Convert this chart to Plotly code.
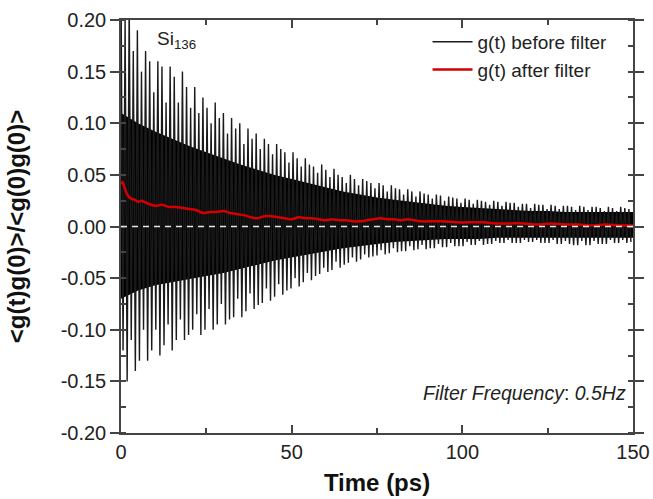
import numpy as np
import plotly.graph_objects as go

# ---- data ----
cycle_ps = 1.2  # spacing of oscillation maxima (ps)

# upper peaks of g(t) before filter, one per oscillation cycle (t = 0, 1.2, 2.4, ...)
peaks_before = [
    0.24, 0.20, 0.22, 0.17, 0.19, 0.15, 0.17, 0.16, 0.13, 0.16,
    0.155, 0.12, 0.155, 0.145, 0.12, 0.15, 0.135, 0.115, 0.135, 0.11,
    0.125, 0.115, 0.10, 0.12, 0.105, 0.11, 0.09, 0.105, 0.095, 0.10,
    0.08, 0.095, 0.085, 0.09, 0.075, 0.085, 0.08, 0.07, 0.08, 0.075,
    0.072, 0.062, 0.072, 0.066, 0.058, 0.066, 0.06, 0.058, 0.052, 0.06,
    0.055, 0.048, 0.056, 0.05, 0.048, 0.042, 0.05, 0.046, 0.04, 0.046,
    0.044, 0.042, 0.037, 0.042, 0.04, 0.034, 0.04, 0.037, 0.036, 0.031,
    0.036, 0.034, 0.029, 0.034, 0.032, 0.031, 0.027, 0.031, 0.03, 0.025,
    0.029, 0.028, 0.027, 0.023, 0.027, 0.026, 0.022, 0.026, 0.025, 0.024,
    0.021, 0.025, 0.024, 0.02, 0.024, 0.023, 0.023, 0.019, 0.022, 0.022,
    0.018, 0.022, 0.021, 0.021, 0.017, 0.021, 0.02, 0.017, 0.02, 0.02,
    0.019, 0.016, 0.02, 0.019, 0.016, 0.019, 0.019, 0.018, 0.015, 0.019,
    0.018, 0.015, 0.019, 0.018, 0.017,
]

# lower troughs of g(t) before filter (t = 0.6, 1.8, 3.0, ...)
troughs_before = [
    -0.12, -0.15, -0.11, -0.14, -0.13, -0.10, -0.13, -0.12, -0.10, -0.125,
    -0.115, -0.095, -0.12, -0.11, -0.09, -0.11, -0.105, -0.10, -0.085, -0.105,
    -0.10, -0.08, -0.10, -0.095, -0.075, -0.095, -0.09, -0.088, -0.07, -0.088,
    -0.082, -0.065, -0.08, -0.076, -0.074, -0.06, -0.072, -0.068, -0.056, -0.066,
    -0.062, -0.06, -0.05, -0.058, -0.054, -0.045, -0.052, -0.048, -0.046, -0.04,
    -0.044, -0.042, -0.034, -0.04, -0.037, -0.035, -0.03, -0.034, -0.032, -0.027,
    -0.03, -0.029, -0.028, -0.023, -0.027, -0.026, -0.021, -0.025, -0.024, -0.024,
    -0.019, -0.023, -0.022, -0.018, -0.022, -0.021, -0.021, -0.017, -0.02, -0.02,
    -0.016, -0.019, -0.019, -0.019, -0.015, -0.018, -0.018, -0.014, -0.018, -0.017,
    -0.017, -0.014, -0.016, -0.016, -0.013, -0.016, -0.016, -0.016, -0.013, -0.015,
    -0.015, -0.013, -0.016, -0.016, -0.016, -0.013, -0.017, -0.017, -0.014, -0.017,
    -0.018, -0.018, -0.014, -0.018, -0.018, -0.014, -0.017, -0.017, -0.017, -0.013,
    -0.016, -0.016, -0.013, -0.016, -0.015,
]

# extent of the densely filled (solid black) part of the raw signal, every 5 ps
core_time = [0, 5, 10, 15, 20, 25, 30, 35, 40, 45, 50, 55, 60, 65, 70, 75,
             80, 85, 90, 95, 100, 105, 110, 115, 120, 125, 130, 135, 140, 145, 150]
core_upper = [0.11, 0.10, 0.092, 0.085, 0.078, 0.072, 0.066, 0.06, 0.055, 0.05,
              0.046, 0.042, 0.038, 0.034, 0.031, 0.028, 0.026, 0.024, 0.022, 0.02,
              0.019, 0.018, 0.017, 0.016, 0.015, 0.015, 0.014, 0.014, 0.014, 0.014, 0.014]
core_lower = [-0.07, -0.062, -0.057, -0.054, -0.051, -0.048, -0.045, -0.041, -0.037, -0.033,
              -0.03, -0.027, -0.024, -0.021, -0.019, -0.017, -0.015, -0.014, -0.013, -0.012,
              -0.012, -0.012, -0.011, -0.011, -0.011, -0.011, -0.011, -0.011, -0.011, -0.011, -0.011]

# g(t) after filter
time_after = [0, 0.5, 1, 2, 3, 4, 5, 6,
              8, 10, 12, 14, 16, 18, 20, 22, 24, 26,
              28, 30, 32, 34, 36, 38, 40, 42, 44, 46,
              48, 50, 52, 54, 56, 58, 60, 62, 64, 66,
              68, 70, 72, 74, 76, 78, 80, 82, 84, 86,
              88, 90,
              94, 98, 102, 106, 110, 114, 118, 122, 126, 130, 134, 138, 142, 146, 150]
g_after = [0.041, 0.043, 0.038, 0.030, 0.027, 0.026, 0.024, 0.025,
           0.022, 0.020, 0.021, 0.019, 0.019, 0.018, 0.017, 0.016, 0.013, 0.014,
           0.014, 0.015, 0.013, 0.012, 0.011, 0.009, 0.008, 0.010, 0.010, 0.009,
           0.008, 0.007, 0.009, 0.008, 0.008, 0.007, 0.006, 0.007, 0.006, 0.006,
           0.005, 0.005, 0.006, 0.007, 0.008, 0.007, 0.007, 0.006, 0.007, 0.006,
           0.005, 0.005,
           0.005, 0.004, 0.004, 0.004, 0.003, 0.003, 0.003, 0.002, 0.003, 0.002,
           0.002, 0.001, 0.002, 0.001, 0.001]

x_ticks = [0, 50, 100, 150]
y_ticks = [-0.20, -0.15, -0.10, -0.05, 0.00, 0.05, 0.10, 0.15, 0.20]

# ---- build the oscillating trace by alternating peaks and troughs ----
n = min(len(peaks_before), len(troughs_before))
t_peaks = np.arange(n) * cycle_ps
t_troughs = t_peaks + cycle_ps / 2
t_before = np.empty(2 * n)
g_before = np.empty(2 * n)
t_before[0::2] = t_peaks
t_before[1::2] = t_troughs
g_before[0::2] = peaks_before[:n]
g_before[1::2] = troughs_before[:n]

FONT = "Liberation Sans, Arial, sans-serif"
AX = "#444444"

fig = go.Figure()
# dense core of the raw signal
fig.add_trace(go.Scatter(
    x=list(core_time) + list(core_time[::-1]),
    y=list(core_upper) + list(core_lower[::-1]),
    mode="lines", fill="toself", fillcolor="black",
    line=dict(color="black", width=0), showlegend=False, hoverinfo="skip",
))
fig.add_trace(go.Scatter(
    x=t_before, y=g_before, mode="lines", name="g(t) before filter",
    line=dict(color="#1a1a1a", width=1.4),
))
fig.add_trace(go.Scatter(
    x=time_after, y=g_after, mode="lines", name="g(t) after filter",
    line=dict(color="#d40000", width=2.5, shape="spline"),
))

fig.add_hline(y=0, line=dict(color="#e6e6e6", width=1.5, dash="6px,5px"), layer="above")

fig.add_annotation(x=10, y=0.181, xref="x", yref="y", text="Si<sub>136</sub>",
                   showarrow=False, xanchor="left", yanchor="middle",
                   font=dict(family=FONT, size=19, color="#222222"))
fig.add_annotation(x=0.99, y=0.096, xref="paper", yref="paper",
                   text="<i>Filter Frequency</i>: <i>0.5Hz</i>",
                   showarrow=False, xanchor="right", yanchor="middle",
                   font=dict(family=FONT, size=19.5, color="#222222"))

fig.update_layout(
    width=653, height=499,
    margin=dict(l=121, r=20, t=20, b=66, autoexpand=False),
    paper_bgcolor="white", plot_bgcolor="white",
    font=dict(family=FONT, size=20, color="#222222"),
    showlegend=True,
    legend=dict(x=0.96, y=0.993, xanchor="right", yanchor="top",
                bgcolor="rgba(0,0,0,0)", font=dict(size=19, color="#222222"),
                tracegroupgap=0, itemwidth=40),
)
fig.update_xaxes(
    range=[0, 150], tickvals=x_ticks, ticktext=[str(v) for v in x_ticks],
    ticks="inside", ticklen=8, tickwidth=1.5, tickcolor=AX,
    minor=dict(dtick=25, ticks="inside", ticklen=5, tickcolor=AX, tickwidth=1.5),
    showline=True, linecolor=AX, linewidth=1.5, mirror="ticks",
    showgrid=False, zeroline=False, automargin=False,
    title=dict(text="<b>Time (ps)</b>", font=dict(size=24, color="#111111"), standoff=12),
    tickfont=dict(size=20),
)
fig.update_yaxes(
    range=[-0.2, 0.2], tickvals=y_ticks, ticktext=[f"{v:.2f}" for v in y_ticks],
    ticks="outside", ticklen=9, tickwidth=1.5, tickcolor=AX,
    minor=dict(dtick=0.025, ticks="inside", ticklen=5, tickcolor=AX, tickwidth=1.5),
    showline=True, linecolor=AX, linewidth=1.5, mirror="ticks",
    showgrid=False, zeroline=False, automargin=False,
    title=dict(text="<b>&lt;g(t)g(0)&gt;/&lt;g(0)g(0)&gt;</b>",
               font=dict(size=24, color="#111111"), standoff=28),
    tickfont=dict(size=20),
)

fig.write_html("out.html")
